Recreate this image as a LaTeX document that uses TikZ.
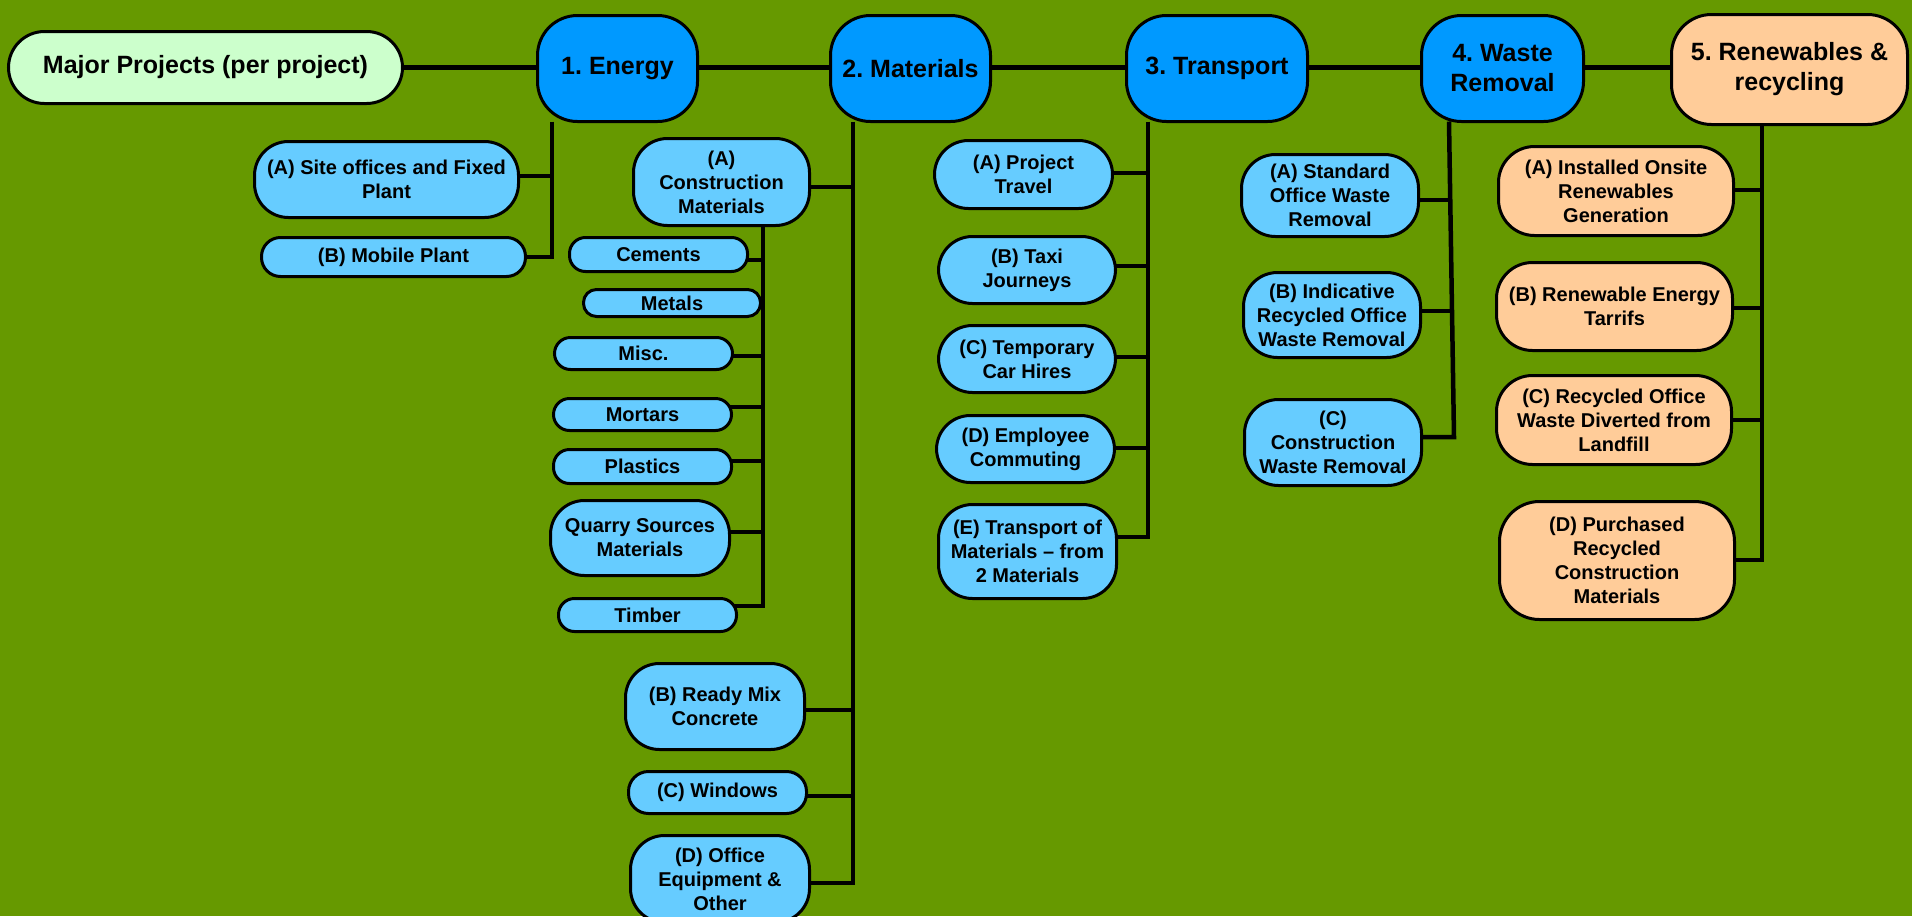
\documentclass[tikz,border=0pt]{standalone}
\usepackage{fontspec}
\setmainfont{Liberation Sans}
\usetikzlibrary{backgrounds}
\definecolor{bggreen}{HTML}{669900}
\definecolor{hubblue}{HTML}{0099FF}
\definecolor{itemblue}{HTML}{66CCFF}
\definecolor{peach}{HTML}{FFCC99}
\definecolor{mint}{HTML}{CCFFCC}
\frenchspacing

\begin{document}
\begin{tikzpicture}[x=1pt,y=-1pt,
  box/.style={draw=black, line width=3pt, align=center, inner sep=0pt, outer sep=0pt, text=black},
  hubfont/.style={font=\fontsize{25}{30}\selectfont\bfseries},
  itemfont/.style={font=\fontsize{20}{24}\selectfont\bfseries},
  hub/.style={box, hubfont, fill=hubblue, rounded corners=40pt, minimum height=106pt},
  item/.style={box, itemfont, fill=itemblue, rounded corners=34pt},
  pill/.style={box, itemfont, fill=itemblue, rounded corners=16pt},
  peachitem/.style={box, itemfont, fill=peach, rounded corners=36pt},
  link/.style={draw=black, line width=4.5pt}
]
\useasboundingbox (0,0) rectangle (1912,916);

% ---- top row ----
\node[box, hubfont, fill=mint, rounded corners=36pt, minimum width=394pt, minimum height=72pt]
  (mp) at (205.5,67.5) {Major Projects (per project)};
\node[hub, minimum width=160pt] (e1) at (617.5,68.5) {1. Energy};
\node[hub, minimum width=160pt] (e2) at (910.5,68.5) {2. Materials};
\node[hub, minimum width=181pt] (e3) at (1217,68.5) {3. Transport};
\node[hub, minimum width=162pt] (e4) at (1502.5,68.5) {4. Waste\\Removal};
\node[hub, fill=peach, minimum width=236pt, minimum height=110pt] (e5) at (1789.5,69.5) {5. Renewables \&\\recycling};

% ---- spine positions ----
\coordinate (s1) at (552,0);
\coordinate (s2) at (853,0);
\coordinate (s2a) at (763,0);
\coordinate (s3) at (1148,0);
\coordinate (s4t) at (1449,0);
\coordinate (s4b) at (1454,0);
\coordinate (s4m) at (1451,0);
\coordinate (s5) at (1762,0);

% ---- 1. Energy ----
\node[item, minimum width=264pt, minimum height=76pt] (e1a) at (386.5,179.5) {(A) Site offices and Fixed\\Plant};
\node[pill, minimum width=264pt, minimum height=39pt, rounded corners=19pt] (e1b) at (393.5,257) {(B) Mobile Plant};

% ---- 2. Materials ----
\node[item, minimum width=176pt, minimum height=87pt] (cm) at (721.5,182) {(A)\\Construction\\Materials};
\node[pill, minimum width=178pt, minimum height=34pt] (cem) at (658.5,254.5) {Cements};
\node[pill, minimum width=177pt, minimum height=27pt, rounded corners=13pt] (met) at (672,303) {Metals};
\node[pill, minimum width=178pt, minimum height=32pt] (misc) at (643.5,353.5) {Misc.};
\node[pill, minimum width=178pt, minimum height=32pt] (mor) at (642.5,414.5) {Mortars};
\node[pill, minimum width=178pt, minimum height=34pt] (pla) at (642.5,466.5) {Plastics};
\node[item, minimum width=179pt, minimum height=75pt] (qua) at (640,538) {Quarry Sources\\Materials};
\node[pill, minimum width=178pt, minimum height=33pt] (tim) at (647.5,615) {Timber};
\node[item, minimum width=179pt, minimum height=86pt] (rmc) at (715,706.5) {(B) Ready Mix\\Concrete};
\node[pill, minimum width=178pt, minimum height=42pt, rounded corners=20pt] (win) at (717.5,792.5) {(C) Windows};
\node[item, minimum width=179pt, minimum height=87pt] (off) at (720,879) {(D) Office\\Equipment \&\\Other};

% ---- 3. Transport ----
\node[item, minimum width=178pt, minimum height=68pt] (ta) at (1023.5,174.5) {(A) Project\\Travel};
\node[item, minimum width=177pt, minimum height=67pt] (tb) at (1027,270) {(B) Taxi\\Journeys};
\node[item, minimum width=177pt, minimum height=67pt] (tc) at (1027,359) {(C) Temporary\\Car Hires};
\node[item, minimum width=178pt, minimum height=67pt] (td) at (1025.5,449) {(D) Employee\\Commuting};
\node[item, minimum width=178pt, minimum height=94pt] (te) at (1027.5,551.5) {(E) Transport of\\Materials -- from\\2 Materials};

% ---- 4. Waste Removal ----
\node[item, minimum width=177pt, minimum height=82pt] (wa) at (1330,195.5) {(A) Standard\\Office Waste\\Removal};
\node[item, minimum width=177pt, minimum height=85pt] (wb) at (1332,315) {(B) Indicative\\Recycled Office\\Waste Removal};
\node[item, minimum width=177pt, minimum height=86pt] (wc) at (1333,442.5) {(C)\\Construction\\Waste Removal};

% ---- 5. Renewables & recycling ----
\node[peachitem, minimum width=235pt, minimum height=89pt] (ra) at (1616,191) {(A) Installed Onsite\\Renewables\\Generation};
\node[peachitem, minimum width=236pt, minimum height=88pt] (rb) at (1614.5,306.5) {(B) Renewable Energy\\Tarrifs};
\node[peachitem, minimum width=235pt, minimum height=89pt] (rc) at (1614,420) {(C) Recycled Office\\Waste Diverted from\\Landfill};
\node[peachitem, minimum width=235pt, minimum height=118pt, rounded corners=40pt] (rd) at (1617,560.5) {(D) Purchased\\Recycled\\Construction\\Materials};

% ---- connectors, drawn beneath the boxes ----
\begin{pgfonlayer}{background}
\fill[bggreen] (0,0) rectangle (1912,916);

% main chain
\draw[link] (mp.center) -- (mp.center -| e5.center);

% Energy
\draw[link] (e1.south -| s1) |- (e1b.center);
\draw[link] (e1a.center |- 0,176) -- (s1 |- 0,176);

% Materials
\draw[link] (e2.south -| s2) |- (off.center |- 0,883);
\draw[link] (cm.center |- 0,187) -- (s2 |- 0,187);
\draw[link] (rmc.center |- 0,710) -- (s2 |- 0,710);
\draw[link] (win.center |- 0,796) -- (s2 |- 0,796);

% Construction materials
\draw[link] (cm.south -| s2a) |- (tim.center |- 0,606);
\draw[link] (cem.center |- 0,260) -- (s2a |- 0,260);
\draw[link] (misc.center |- 0,356) -- (s2a |- 0,356);
\draw[link] (mor.center |- 0,407) -- (s2a |- 0,407);
\draw[link] (pla.center |- 0,461) -- (s2a |- 0,461);
\draw[link] (qua.center |- 0,532) -- (s2a |- 0,532);

% Transport
\draw[link] (e3.south -| s3) |- (te.center |- 0,537);
\draw[link] (ta.center |- 0,173) -- (s3 |- 0,173);
\draw[link] (tb.center |- 0,266) -- (s3 |- 0,266);
\draw[link] (tc.center |- 0,357) -- (s3 |- 0,357);
\draw[link] (td.center |- 0,448) -- (s3 |- 0,448);

% Waste removal
\draw[link, line join=miter] (e4.south -| s4t) -- (s4b |- 0,437) -- (wc.center |- 0,437);
\draw[link] (wa.center |- 0,200) -- (s4m |- 0,200);
\draw[link] (wb.center |- 0,311) -- (s4m |- 0,311);

% Renewables & recycling
\draw[link] (e5.south -| s5) |- (rd.center |- 0,560);
\draw[link] (ra.center |- 0,190) -- (s5 |- 0,190);
\draw[link] (rb.center |- 0,308) -- (s5 |- 0,308);
\draw[link] (rc.center |- 0,420) -- (s5 |- 0,420);
\end{pgfonlayer}
\end{tikzpicture}
\end{document}
